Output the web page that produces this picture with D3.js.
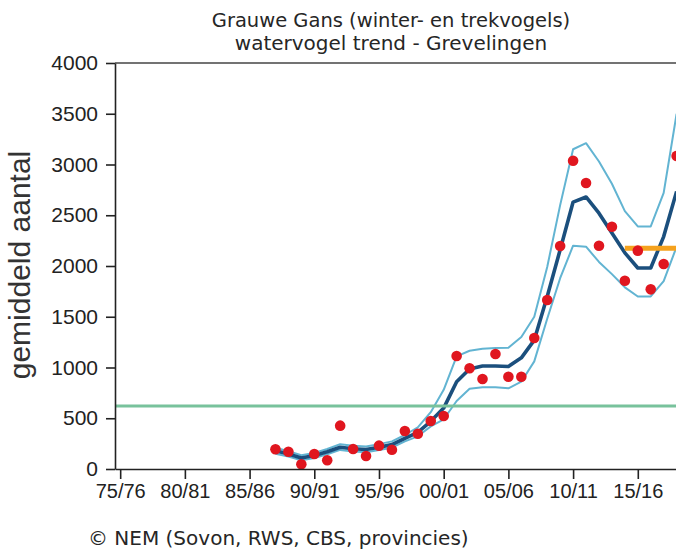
<!DOCTYPE html>
<html>
<head>
<meta charset="utf-8">
<script src="https://cdn.jsdelivr.net/npm/d3@7"></script>
<style>
  html, body { margin: 0; padding: 0; background: #fff; }
  svg { display: block; }
</style>
</head>
<body>
<svg id="chart" width="676" height="551"></svg>
<script>
// Season start years (1987 = season 87/88)
const seasons = [1987, 1988, 1989, 1990, 1991, 1992, 1993, 1994, 1995, 1996,
                 1997, 1998, 1999, 2000, 2001, 2002, 2003, 2004, 2005, 2006,
                 2007, 2008, 2009, 2010, 2011, 2012, 2013, 2014, 2015, 2016,
                 2017, 2018];

// Seasonal mean counts (red dots)
const counts = [194, 170, 46, 148, 86, 427, 197, 128, 230, 190,
                374, 348, 473, 522, 1113, 992, 887, 1133, 909, 909,
                1291, 1665, 2197, 3037, 2818, 2200, 2387, 1855, 2151, 1770,
                2020, 3084];

// Fitted trend (dark blue)
const trend = [180, 148, 108, 132, 170, 215, 200, 192, 215, 240,
               302, 362, 470, 600, 860, 985, 1015, 1015, 1010, 1095,
               1270, 1700, 2160, 2630, 2680, 2520, 2325, 2130, 1980, 1980,
               2290, 2735];

// Confidence band around the trend (light blue)
const upper = [210, 175, 135, 158, 197, 245, 230, 222, 245, 272,
               335, 410, 560, 780, 1110, 1165, 1185, 1192, 1195, 1300,
               1500, 1990, 2600, 3150, 3210, 3030, 2810, 2540, 2390, 2390,
               2720, 3500];
const lower = [150, 122, 85, 108, 145, 188, 172, 165, 188, 210,
               272, 322, 420, 490, 670, 790, 805, 805, 795, 860,
               1060, 1480, 1880, 2200, 2190, 2040, 1920, 1790, 1700, 1700,
               1850, 2190];

// Reference level (green) and the span of the recent-years mean (orange)
const referenceLevel = 620;
const recentSeasons = [2014, 2015, 2016, 2017, 2018];

// Axis ticks
const xTickYears = [1975, 1980, 1985, 1990, 1995, 2000, 2005, 2010, 2015];
const xTickLabels = ["75/76", "80/81", "85/86", "90/91", "95/96", "00/01", "05/06", "10/11", "15/16"];
const yTicks = [0, 500, 1000, 1500, 2000, 2500, 3000, 3500, 4000];

const titleLines = ["Grauwe Gans (winter- en trekvogels)", "watervogel trend - Grevelingen"];
const yTitle = "gemiddeld aantal";
const credit = "\u00A9 NEM (Sovon, RWS, CBS, provincies)";

const svg = d3.select("#chart");
const W = 676, H = 551;

const x = d3.scaleLinear().domain([1974.6, 2020]).range([115, 702.5]);
const y = d3.scaleLinear().domain([0, 4000]).range([469, 63]);

const axisColor = "#222";
const labelFont = "'Liberation Sans', Arial, sans-serif";
const titleFont = "'DejaVu Sans', Verdana, sans-serif";

// Titles
svg.append("g").selectAll("text").data(titleLines).join("text")
  .attr("x", 391)
  .attr("y", (d, i) => i === 0 ? 27 : 50)
  .attr("text-anchor", "middle")
  .attr("font-family", titleFont)
  .attr("font-size", (d, i) => i === 0 ? 19.5 : 20)
  .attr("fill", "#262626")
  .text(d => d);

// Plot frame top line
svg.append("line")
  .attr("x1", x.range()[0]).attr("x2", W)
  .attr("y1", y(4000)).attr("y2", y(4000))
  .attr("stroke", "#444").attr("stroke-width", 1.6);

const rows = seasons.map((s, i) => ({ s, c: counts[i], t: trend[i], u: upper[i], l: lower[i] }));

const line = key => d3.line().x(d => x(d.s)).y(d => y(d[key]));

// Confidence band edges
["u", "l"].forEach(k => {
  svg.append("path")
    .datum(rows)
    .attr("d", line(k))
    .attr("fill", "none")
    .attr("stroke", "#62b4d2")
    .attr("stroke-width", 2)
    .attr("stroke-linejoin", "round");
});

// Trend
svg.append("path")
  .datum(rows)
  .attr("d", line("t"))
  .attr("fill", "none")
  .attr("stroke", "#1b4f7d")
  .attr("stroke-width", 3.6)
  .attr("stroke-linejoin", "round");

// Reference level
svg.append("line")
  .attr("x1", x.range()[0]).attr("x2", W)
  .attr("y1", y(referenceLevel)).attr("y2", y(referenceLevel))
  .attr("stroke", "#78c29c").attr("stroke-width", 3);

// Mean of the most recent seasons
const recentMean = d3.mean(rows.filter(d => recentSeasons.includes(d.s)), d => d.c);
svg.append("line")
  .attr("x1", x(recentSeasons[0])).attr("x2", x(recentSeasons[recentSeasons.length - 1] + 1))
  .attr("y1", y(recentMean)).attr("y2", y(recentMean))
  .attr("stroke", "#f5a21e").attr("stroke-width", 5);

// Seasonal counts
svg.append("g").selectAll("circle").data(rows).join("circle")
  .attr("cx", d => x(d.s))
  .attr("cy", d => y(d.c))
  .attr("r", 5.3)
  .attr("fill", "#e0161f");

// Y axis
const yAxis = svg.append("g")
  .attr("transform", `translate(${x.range()[0]},0)`)
  .call(d3.axisLeft(y).tickValues(yTicks).tickFormat(d3.format("d"))
    .tickSize(9).tickPadding(8).tickSizeOuter(0));
yAxis.select(".domain").attr("stroke", axisColor).attr("stroke-width", 1.6);
yAxis.selectAll(".tick line").attr("stroke", axisColor).attr("stroke-width", 1.6);
yAxis.selectAll(".tick text")
  .attr("font-family", labelFont).attr("font-size", 21).attr("fill", "#222");

// X axis
const xAxis = svg.append("g")
  .attr("transform", `translate(0,${y(0)})`)
  .call(d3.axisBottom(x).tickValues(xTickYears)
    .tickFormat((d, i) => xTickLabels[i]).tickSize(10).tickPadding(5).tickSizeOuter(0));
xAxis.select(".domain").attr("stroke", axisColor).attr("stroke-width", 1.6);
xAxis.selectAll(".tick line").attr("stroke", axisColor).attr("stroke-width", 1.6);
xAxis.selectAll(".tick text")
  .attr("font-family", labelFont).attr("font-size", 20).attr("fill", "#222");

// Y axis title
svg.append("text")
  .attr("transform", "translate(30,265) rotate(-90)")
  .attr("text-anchor", "middle")
  .attr("font-family", labelFont)
  .attr("font-size", 30)
  .attr("fill", "#333")
  .text(yTitle);

// Source credit
svg.append("text")
  .attr("x", 88).attr("y", 545)
  .attr("font-family", titleFont)
  .attr("font-size", 20)
  .attr("fill", "#262626")
  .text(credit);
</script>
</body>
</html>
